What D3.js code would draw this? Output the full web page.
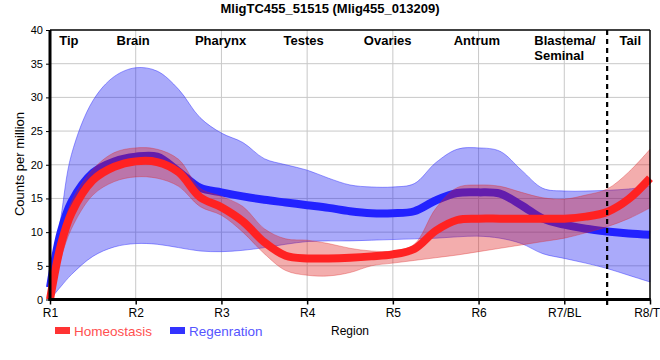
<!DOCTYPE html>
<html>
<head>
<meta charset="utf-8">
<script src="https://cdn.jsdelivr.net/npm/d3@7"></script>
<style>
  html, body { margin: 0; padding: 0; background: #fff; }
  svg { display: block; font-family: "Liberation Sans", Arial, sans-serif; }
</style>
</head>
<body>
<svg id="chart" width="660" height="360"></svg>
<script>
// ---------------- data ----------------
const title = "MligTC455_51515 (Mlig455_013209)";
const categories = ["R1", "R2", "R3", "R4", "R5", "R6", "R7/BL", "R8/TL"];
const regionNames = ["Tip", "Brain", "Pharynx", "Testes", "Ovaries", "Antrum", "Blastema/\nSeminal", "Tail"];
const yTicks = [0, 5, 10, 15, 20, 25, 30, 35, 40];
const seriesNames = ["Homeostasis", "Regenration"];

// sample positions along the region axis (0 = R1 ... 7 = R8/TL)
const pos = [0, 0.125, 0.25, 0.5, 0.75, 1, 1.25, 1.5, 1.75, 2, 2.25, 2.5, 2.75, 3, 3.25, 3.5, 3.75,
             4, 4.25, 4.5, 4.75, 5, 5.25, 5.5, 5.75, 6, 6.25, 6.5, 6.75, 7];

const homMean = [0, 8, 12.8, 17.7, 19.7, 20.5, 20.4, 18.9, 15.2, 13.7, 11.6, 8.5, 6.5, 6.1, 6.1, 6.2, 6.4,
                 6.7, 7.5, 10.2, 11.8, 12.0, 12.0, 12.0, 12.0, 12.0, 12.3, 13.0, 14.9, 18.0];
const homHigh = [0.5, 9, 14.5, 19.3, 21.8, 22.5, 22.3, 20.8, 16.5, 15.3, 13.8, 10.5, 9.0, 8.8, 8.3, 7.6, 7.2,
                 7.2, 8.2, 13.5, 16.6, 17.0, 16.8, 15.9, 15.1, 14.9, 15.5, 16.4, 18.9, 22.3];
const homLow  = [0, 6, 10.5, 15.5, 17.5, 18.2, 18.0, 16.8, 13.8, 12.5, 10.0, 6.8, 4.3, 3.6, 3.5, 4.0, 5.0,
                 5.4, 5.8, 6.2, 6.6, 7.1, 7.6, 8.1, 8.6, 9.1, 9.9, 10.8, 12.0, 13.6];

const regMean = [1.8, 10.0, 14.5, 18.8, 20.5, 21.2, 21.2, 19.0, 16.6, 15.9, 15.3, 14.8, 14.4, 14.0, 13.6, 13.1, 12.8,
                 12.8, 13.1, 14.7, 15.8, 15.9, 15.7, 14.0, 12.0, 11.1, 10.5, 10.1, 9.8, 9.6];
const regHigh = [1.9, 12.0, 21.5, 29.5, 33.1, 34.4, 33.9, 31.2, 27.0, 24.7, 23.3, 20.9, 20.0, 19.2, 18.0, 17.0, 16.7,
                 16.7, 17.2, 20.3, 22.3, 22.5, 22.0, 19.2, 16.5, 16.1, 16.1, 16.2, 16.4, 16.8];
const regLow  = [0, 1.9, 3.7, 6.4, 7.8, 8.3, 8.2, 7.7, 7.2, 7.1, 7.3, 7.7, 8.2, 8.6, 8.7, 8.7, 8.8,
                 8.9, 9.0, 9.1, 9.3, 9.4, 9.1, 8.3, 6.8, 6.1, 5.4, 4.6, 3.6, 2.6];

const boundaryPos = 6.5; // dashed separator between Blastema/Seminal and Tail

// ---------------- layout ----------------
const svg = d3.select("#chart");
const L = 50, R = 650, T = 30, B = 299.5;
const x = d3.scaleLinear().domain([0, categories.length - 1]).range([L, R]);
const y = d3.scaleLinear().domain([0, 40]).range([B, T]);

// title
svg.append("text").attr("x", 330).attr("y", 13).attr("text-anchor", "middle")
  .attr("font-size", 13).attr("font-weight", "bold").text(title);

// grid
const grid = svg.append("g");
grid.selectAll("line.h").data(yTicks.filter(d => d > 0 && d < 40)).join("line")
  .attr("x1", L).attr("x2", R).attr("y1", d => y(d)).attr("y2", d => y(d))
  .attr("stroke", "#c8c8c8").attr("stroke-width", 1);
grid.selectAll("line.v").data(categories.slice(1, -1)).join("line")
  .attr("x1", (d, i) => x(i + 1)).attr("x2", (d, i) => x(i + 1)).attr("y1", T).attr("y2", B)
  .attr("stroke", "#c8c8c8").attr("stroke-width", 1);

// build rows
const rows = pos.map((p, i) => ({
  p, hm: homMean[i], hh: homHigh[i], hl: homLow[i],
  rm: regMean[i], rh: regHigh[i], rl: regLow[i]
}));
const curve = d3.curveCatmullRom.alpha(0.5);

const area = (hi, lo) => d3.area().curve(curve).x(d => x(d.p)).y0(d => y(d[lo])).y1(d => y(d[hi]));
const line = (k) => d3.line().curve(curve).x(d => x(d.p)).y(d => y(d[k]));

// regeneration band + line
svg.append("path").datum(rows).attr("d", area("rh", "rl"))
  .attr("fill", "rgba(20,20,240,0.36)").attr("stroke", "rgba(40,40,255,0.45)").attr("stroke-width", 1);
svg.append("path").datum(rows).attr("d", line("rm"))
  .attr("fill", "none").attr("stroke", "#2222ff").attr("stroke-width", 8);

// homeostasis band + line
svg.append("path").datum(rows).attr("d", area("hh", "hl"))
  .attr("fill", "rgba(220,20,20,0.35)").attr("stroke", "rgba(220,40,40,0.35)").attr("stroke-width", 1);
svg.append("path").datum(rows).attr("d", line("hm"))
  .attr("fill", "none").attr("stroke", "#ff2222").attr("stroke-width", 8);

// frame
svg.append("line").attr("x1", L).attr("x2", R).attr("y1", T).attr("y2", T).attr("stroke", "#000").attr("stroke-width", 1.5);
svg.append("line").attr("x1", R).attr("x2", R).attr("y1", T).attr("y2", B).attr("stroke", "#000").attr("stroke-width", 1.5);

// axes
const yAxis = svg.append("g").attr("transform", `translate(${L},0)`)
  .call(d3.axisLeft(y).tickValues(yTicks).tickSize(4).tickPadding(3));
yAxis.select(".domain").remove();
yAxis.selectAll("text").attr("font-size", 11).attr("fill", "#000").attr("font-family", "Liberation Sans, Arial, sans-serif");
yAxis.selectAll(".tick line").attr("stroke", "#000");

const xAxis = svg.append("g").attr("transform", `translate(0,${B})`)
  .call(d3.axisBottom(x).tickValues(d3.range(categories.length)).tickFormat(i => categories[i]).tickSize(5).tickPadding(4));
xAxis.select(".domain").remove();
xAxis.selectAll("text").attr("font-size", 12).attr("fill", "#000").attr("font-family", "Liberation Sans, Arial, sans-serif");
xAxis.selectAll(".tick line").attr("stroke", "#000").attr("stroke-width", 1.5);

svg.append("line").attr("x1", L).attr("x2", L).attr("y1", T).attr("y2", B + 1.5).attr("stroke", "#000").attr("stroke-width", 3);
svg.append("line").attr("x1", L - 1.5).attr("x2", R + 0.75).attr("y1", B).attr("y2", B).attr("stroke", "#000").attr("stroke-width", 3);

// dashed separator
svg.append("line").attr("x1", x(boundaryPos)).attr("x2", x(boundaryPos)).attr("y1", T).attr("y2", B + 6)
  .attr("stroke", "#000").attr("stroke-width", 2.2).attr("stroke-dasharray", "5,4");

// region labels
const labelAnchors = [0.22, 0.97, 1.99, 2.96, 3.94, 4.98, 5.65, 6.77];
regionNames.forEach((name, i) => {
  const parts = name.split("\n");
  const t = svg.append("text").attr("font-size", 13).attr("font-weight", "bold")
    .attr("text-anchor", parts.length > 1 ? "start" : "middle");
  parts.forEach((p, j) => {
    t.append("tspan").attr("x", x(labelAnchors[i])).attr("y", 45 + j * 15).text(p);
  });
});

// axis titles
svg.append("text").attr("transform", "translate(24,164) rotate(-90)").attr("text-anchor", "middle")
  .attr("font-size", 13).text("Counts per million");
svg.append("text").attr("x", 331).attr("y", 335).attr("font-size", 12).text("Region");

// legend
const legendColors = ["#ff3333", "#3333ff"];
const legendText = ["#ff5050", "#5555ff"];
const legendX = [55, 170];
seriesNames.forEach((s, i) => {
  svg.append("rect").attr("x", legendX[i]).attr("y", 327).attr("width", 15).attr("height", 7).attr("fill", legendColors[i]);
  svg.append("text").attr("x", legendX[i] + 19).attr("y", 336).attr("font-size", 13.5)
    .attr("fill", legendText[i]).text(s);
});
</script>
</body>
</html>
